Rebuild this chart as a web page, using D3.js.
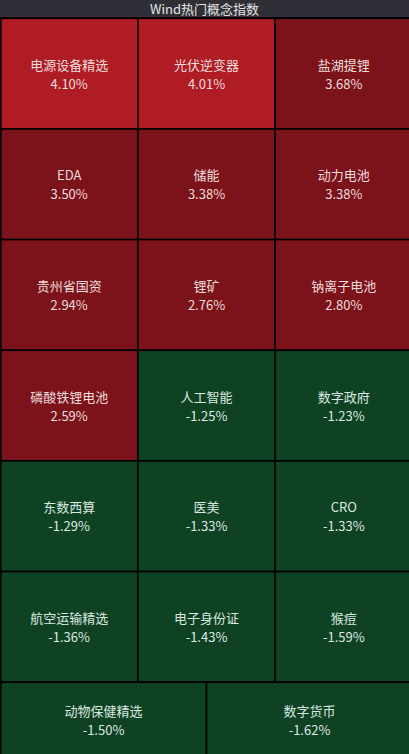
<!DOCTYPE html>
<html><head><meta charset="utf-8">
<script src="https://cdn.jsdelivr.net/npm/d3@7"></script>
<style>
html,body{margin:0;padding:0;background:#000;}
svg{display:block;}
</style></head>
<body>
<svg id="c" width="409" height="754"></svg>
<script>
const title = "Wind热门概念指数";
const names = ["电源设备精选","光伏逆变器","盐湖提锂","EDA","储能","动力电池","贵州省国资","锂矿","钠离子电池","磷酸铁锂电池","人工智能","数字政府","东数西算","医美","CRO","航空运输精选","电子身份证","猴痘","动物保健精选","数字货币"];
const values = [4.10,4.01,3.68,3.50,3.38,3.38,2.94,2.76,2.80,2.59,-1.25,-1.23,-1.29,-1.33,-1.33,-1.36,-1.43,-1.59,-1.50,-1.62];

const svg = d3.select("#c");
const W = 409, H = 754;
const font = "'Microsoft YaHei','Noto Sans CJK SC','Noto Sans',sans-serif";

svg.append("rect").attr("x",0).attr("y",0).attr("width",W).attr("height",H).attr("fill","#000");
// title bar
svg.append("rect").attr("x",0).attr("y",0).attr("width",W).attr("height",17).attr("fill","#2f3037");
svg.append("text").attr("x",W/2).attr("y",8.5).attr("text-anchor","middle").attr("dominant-baseline","central")
  .attr("fill","#e4e4e4").attr("font-family",font).attr("font-size",13).text(title);

const color = v => v >= 4 ? "#b01c24" : (v >= 0 ? "#7d131a" : "#0f4223");

const cols = 3, fullRows = 6;
const x3 = d3.scaleBand().domain(d3.range(cols)).range([0.5, 412.5]);
const x2 = d3.scaleBand().domain(d3.range(2)).range([0.5, 412.5]);
const yRows = d3.scaleBand().domain(d3.range(fullRows)).range([18.3, 18.3 + 6*110.65]);
const lastTop = 18.3 + 6*110.65, lastH = 76;

const cells = names.map((n,i) => {
  const v = values[i];
  if (i < cols*fullRows) {
    const c = i % cols, r = Math.floor(i / cols);
    return {n, v, x: x3(c), y: yRows(r), w: x3.bandwidth(), h: yRows.bandwidth()};
  } else {
    const c = i - cols*fullRows;
    return {n, v, x: x2(c), y: lastTop, w: x2.bandwidth(), h: lastH};
  }
});

const g = svg.selectAll("g.cell").data(cells).join("g").attr("class","cell");
g.append("rect").attr("x",d=>d.x).attr("y",d=>d.y).attr("width",d=>d.w).attr("height",d=>d.h)
  .attr("fill",d=>color(d.v)).attr("stroke","#000").attr("stroke-width",1.6);
g.append("text").attr("x",d=>d.x+d.w/2).attr("y",d=>d.y+d.h/2-9.5)
  .attr("text-anchor","middle").attr("dominant-baseline","central")
  .attr("fill",d=>d.v>=0?"#ecdcdc":"#dce8e2").attr("font-family",font).attr("font-size",13).text(d=>d.n);
g.append("text").attr("x",d=>d.x+d.w/2).attr("y",d=>d.y+d.h/2+9.5)
  .attr("text-anchor","middle").attr("dominant-baseline","central")
  .attr("fill",d=>d.v>=0?"#ecdcdc":"#dce8e2").attr("font-family",font).attr("font-size",13).text(d=>d.v.toFixed(2)+"%");
// left border
svg.append("rect").attr("x",0).attr("y",17).attr("width",1.5).attr("height",H-17).attr("fill","#000");
</script>
</body></html>
